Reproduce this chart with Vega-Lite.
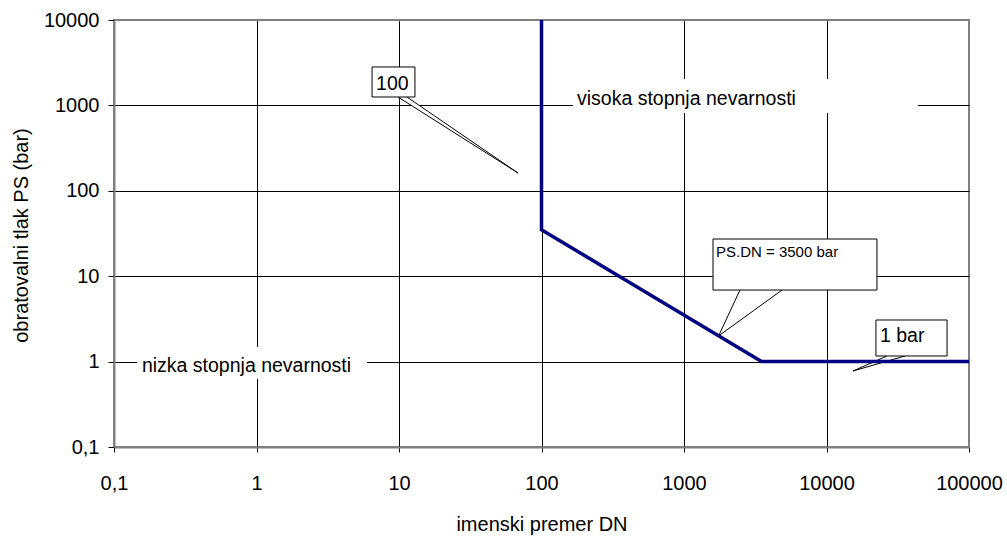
{
  "$schema": "https://vega.github.io/schema/vega-lite/v6.json",
  "width": 855,
  "height": 427,
  "autosize": {"type": "none"},
  "padding": {"left": 114, "top": 20, "right": 38, "bottom": 89},
  "background": "white",
  "config": {
    "view": {"stroke": "#808080", "strokeWidth": 2},
    "font": "Liberation Sans",
    "axis": {
      "labelFont": "Liberation Sans",
      "titleFont": "Liberation Sans",
      "labelFontSize": 20,
      "titleFontSize": 20,
      "titleFontWeight": "normal",
      "labelColor": "black",
      "titleColor": "black",
      "domainColor": "#808080",
      "domainWidth": 2,
      "tickColor": "black",
      "tickWidth": 1,
      "gridOpacity": 1,
      "gridWidth": 1,
      "labelFlush": false,
      "labelOverlap": false
    }
  },
  "datasets": {
    "curve": [
      {"k": 1, "dn": 100, "ps": 10000},
      {"k": 2, "dn": 100, "ps": 35},
      {"k": 3, "dn": 3500, "ps": 1},
      {"k": 4, "dn": 100000, "ps": 1}
    ],
    "backgrounds": [
      {"x": 166, "x2": 43850, "y": 2038, "y2": 815},
      {"x": 0.145, "x2": 5.96, "y": 1.48, "y2": 0.626}
    ],
    "boxes": [
      {"x": 6.47, "x2": 12.94, "y": 2818, "y2": 1254},
      {"x": 1598, "x2": 22594, "y": 27.26, "y2": 6.89},
      {"x": 22230, "x2": 70170, "y": 3.07, "y2": 1.163}
    ],
    "wedges": [
      {"id": "a", "k": 1, "x": 9.84, "y": 1254},
      {"id": "a", "k": 2, "x": 68.4, "y": 161.6},
      {"id": "a", "k": 3, "x": 11.37, "y": 1254},
      {"id": "b", "k": 1, "x": 2470, "y": 6.89},
      {"id": "b", "k": 2, "x": 1750, "y": 2.0},
      {"id": "b", "k": 3, "x": 4873, "y": 6.89},
      {"id": "c", "k": 1, "x": 26580, "y": 1.163},
      {"id": "c", "k": 2, "x": 15350, "y": 0.776},
      {"id": "c", "k": 3, "x": 35560, "y": 1.163}
    ],
    "labels": [
      {"text": "visoka stopnja nevarnosti", "x": 177.4, "y": 1005},
      {"text": "nizka stopnja nevarnosti", "x": 0.157, "y": 0.755},
      {"text": "100", "x": 6.9, "y": 1515},
      {"text": "1 bar", "x": 23740, "y": 1.696}
    ],
    "small": [
      {"text": "PS.DN = 3500 bar", "x": 1677, "y": 16.78}
    ]
  },
  "layer": [
    {
      "data": {"name": "backgrounds"},
      "mark": {"type": "rect", "fill": "white", "stroke": null},
      "encoding": {
        "x": {
          "field": "x", "type": "quantitative",
          "scale": {"type": "log", "domain": [0.1, 100000], "nice": false},
          "axis": {
            "values": [0.1, 1, 10, 100, 1000, 10000, 100000],
            "labelExpr": "datum.value < 1 ? '0,1' : format(datum.value, 'd')",
            "title": "imenski premer DN",
            "tickSize": 5,
            "labelPadding": 21,
            "grid": true,
            "gridColor": {"condition": {"test": "datum.value >= 100000 || datum.value <= 0.1", "value": "#808080"}, "value": "black"},
            "titleBaseline": "alphabetic",
            "titleY": 83
          }
        },
        "x2": {"field": "x2"},
        "y": {
          "field": "y", "type": "quantitative",
          "scale": {"type": "log", "domain": [0.1, 10000], "nice": false},
          "axis": {
            "values": [0.1, 1, 10, 100, 1000, 10000],
            "labelExpr": "datum.value < 1 ? '0,1' : format(datum.value, 'd')",
            "title": "obratovalni tlak PS (bar)",
            "tickSize": 6,
            "labelPadding": 9,
            "grid": true,
            "gridColor": {"condition": {"test": "datum.value >= 10000 || datum.value <= 0.1", "value": "#808080"}, "value": "black"},
            "titleAngle": -90,
            "titleBaseline": "middle",
            "titleX": -93,
            "titleY": 215
          }
        },
        "y2": {"field": "y2"}
      }
    },
    {
      "data": {"name": "wedges"},
      "mark": {"type": "line", "filled": true, "fill": "white", "stroke": "black", "strokeWidth": 1, "interpolate": "linear"},
      "encoding": {
        "x": {"field": "x", "type": "quantitative"},
        "y": {"field": "y", "type": "quantitative"},
        "detail": {"field": "id"},
        "order": {"field": "k"}
      }
    },
    {
      "data": {"name": "boxes"},
      "mark": {"type": "rect", "fill": "white", "stroke": "black", "strokeWidth": 1},
      "encoding": {
        "x": {"field": "x", "type": "quantitative"},
        "x2": {"field": "x2"},
        "y": {"field": "y", "type": "quantitative"},
        "y2": {"field": "y2"}
      }
    },
    {
      "data": {"name": "curve"},
      "mark": {"type": "line", "color": "#000080", "strokeWidth": 3.5, "clip": true},
      "encoding": {
        "x": {"field": "dn", "type": "quantitative"},
        "y": {"field": "ps", "type": "quantitative"},
        "order": {"field": "k"}
      }
    },
    {
      "data": {"name": "labels"},
      "mark": {"type": "text", "align": "left", "baseline": "alphabetic", "fontSize": 19.5, "font": "Liberation Sans", "color": "black"},
      "encoding": {
        "x": {"field": "x", "type": "quantitative"},
        "y": {"field": "y", "type": "quantitative"},
        "text": {"field": "text"}
      }
    },
    {
      "data": {"name": "small"},
      "mark": {"type": "text", "align": "left", "baseline": "alphabetic", "fontSize": 15, "font": "Liberation Sans", "color": "black"},
      "encoding": {
        "x": {"field": "x", "type": "quantitative"},
        "y": {"field": "y", "type": "quantitative"},
        "text": {"field": "text"}
      }
    }
  ]
}
